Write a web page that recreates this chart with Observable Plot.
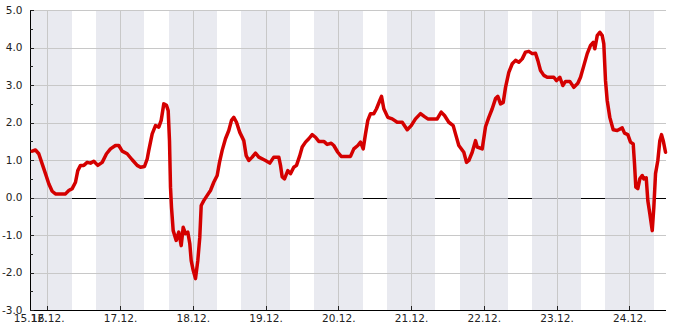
<!DOCTYPE html>
<html>
<head>
<meta charset="utf-8">
<script src="https://cdn.jsdelivr.net/npm/d3@7"></script>
<script src="https://cdn.jsdelivr.net/npm/@observablehq/plot@0.6"></script>
<style>
  html, body { margin: 0; padding: 0; background: #fff; }
  #chart svg { display: block; }
</style>
</head>
<body>
<div id="chart"></div>
<script>
// Hours since 15.12. 00:00
const hours = [18.85,19.94,21.03,22.15,23.24,24.33,25.45,26.54,29.84,30.93,32.05,33.14,33.9,34.79,35.88,37.0,38.09,39.18,40.5,41.95,43.37,44.68,46.33,47.42,48.54,50.19,51.84,53.49,54.58,55.9,56.79,57.32,58.44,59.53,60.62,61.41,62.27,63.16,63.72,64.15,64.48,64.81,65.37,66.36,67.22,68.01,68.67,69.43,70.19,70.85,71.31,71.97,72.73,73.49,74.14,74.61,75.46,76.59,77.67,78.76,79.88,80.64,81.53,82.62,83.71,84.6,85.36,86.25,87.34,88.66,89.45,90.31,91.43,92.52,93.61,95.82,97.24,98.56,100.21,100.77,101.33,102.09,103.18,104.07,105.15,106.05,107.13,107.93,109.02,110.1,111.22,112.31,113.4,115.05,116.17,117.5,118.35,119.67,120.79,123.86,124.95,126.27,127.16,128.05,128.81,129.57,130.46,131.55,132.44,133.53,134.09,134.85,136.17,137.62,139.27,140.92,142.57,143.89,145.3,146.95,148.27,149.36,152.46,153.78,154.87,156.29,157.74,158.5,159.59,161.24,162.13,162.89,164.01,165.1,165.66,167.31,168.4,169.49,170.61,171.7,172.46,173.35,174.24,175.0,176.08,177.21,178.3,179.39,180.51,181.59,182.68,183.8,184.89,185.65,186.54,187.63,188.75,190.93,191.82,192.91,193.9,194.79,196.21,197.53,198.85,199.74,200.83,201.95,203.04,203.93,204.46,205.25,206.1,206.9,207.42,207.98,208.54,209.4,210.52,211.84,213.49,214.25,215.34,216.23,217.12,217.55,217.98,218.64,219.3,220.09,220.62,221.41,221.94,222.6,223.39,223.92,224.48,225.24,225.9,226.46,227.02,227.78];
const values = [1.25,1.28,1.18,0.91,0.65,0.38,0.18,0.11,0.11,0.2,0.25,0.42,0.73,0.87,0.87,0.95,0.93,0.98,0.87,0.95,1.18,1.31,1.4,1.4,1.25,1.18,1.02,0.87,0.82,0.84,1.04,1.27,1.71,1.93,1.89,2.07,2.51,2.47,2.33,1.53,0.29,-0.25,-0.87,-1.13,-0.91,-1.27,-0.78,-0.95,-0.91,-1.22,-1.67,-1.93,-2.15,-1.67,-1.05,-0.2,-0.07,0.07,0.2,0.42,0.6,0.95,1.27,1.58,1.8,2.07,2.15,2.02,1.75,1.53,1.13,1.0,1.09,1.2,1.09,1.0,0.93,1.09,1.09,0.87,0.56,0.51,0.73,0.65,0.82,0.87,1.13,1.36,1.49,1.58,1.69,1.62,1.51,1.51,1.43,1.46,1.4,1.22,1.11,1.11,1.31,1.4,1.49,1.31,1.71,2.07,2.25,2.25,2.38,2.6,2.71,2.38,2.15,2.11,2.02,2.02,1.82,1.93,2.11,2.25,2.17,2.11,2.11,2.29,2.2,2.02,1.93,1.71,1.4,1.22,0.95,1.0,1.22,1.53,1.36,1.31,1.9,2.15,2.38,2.65,2.71,2.51,2.55,2.95,3.35,3.58,3.67,3.62,3.71,3.89,3.91,3.85,3.86,3.67,3.4,3.27,3.22,3.22,3.13,3.22,3.0,3.11,3.11,2.95,3.06,3.22,3.53,3.85,4.07,4.15,3.98,4.33,4.42,4.33,4.11,3.13,2.6,2.15,1.82,1.8,1.87,1.73,1.69,1.49,1.44,0.91,0.29,0.25,0.51,0.6,0.51,0.54,-0.07,-0.42,-0.87,-0.25,0.65,1.0,1.53,1.69,1.53,1.22];

// Visible time window (hours since 15.12. 00:00)
const domainHours = [18.3, 228.1];
// Day labels (midnight of each day, day of December)
const labelDays = [16, 17, 18, 19, 20, 21, 22, 23, 24];
// Shaded night bands: from 16:00 of day d to 08:00 of day d+1
const bandDays = [15, 16, 17, 18, 19, 20, 21, 22, 23];
const bandStartHour = 16;
const bandEndHour = 8;
// Y axis
const yTicks = [-3, -2, -1, 0, 1, 2, 3, 4, 5];
const yMinor = [-2.5, -1.5, -0.5, 0.5, 1.5, 2.5, 3.5, 4.5];

const base = Date.UTC(2023, 11, 15);
const toDate = h => new Date(base + h * 3600e3);
const data = hours.map((h, i) => ({t: toDate(h), v: values[i]}));
const bands = bandDays.map(d => ({
  x1: new Date(Date.UTC(2023, 11, d, bandStartHour)),
  x2: new Date(Date.UTC(2023, 11, d + 1, bandEndHour))
}));
const dayTicks = labelDays.map(d => new Date(Date.UTC(2023, 11, d)));
const start = toDate(domainHours[0]);
const end = toDate(domainHours[1]);
const fmt = d3.utcFormat("%d.%m.");

const chart = Plot.plot({
  width: 685,
  height: 330,
  marginTop: 10,
  marginBottom: 20,
  marginLeft: 30,
  marginRight: 19,
  style: {fontFamily: "DejaVu Sans", fontSize: "10.5px", color: "#222", background: "#fff"},
  x: {type: "utc", domain: [start, end], label: null},
  y: {domain: [-3, 5], label: null},
  marks: [
    Plot.ruleY([0], {stroke: "#000", strokeWidth: 1, shapeRendering: "crispEdges"}),
    Plot.rect(bands, {x1: "x1", x2: "x2", fill: "rgb(224,225,234)", fillOpacity: 0.7, clip: true, shapeRendering: "crispEdges"}),
    Plot.gridY(yTicks.filter(d => d !== 0), {stroke: "#c8c8c8", strokeOpacity: 1, shapeRendering: "crispEdges"}),
    Plot.gridX(dayTicks, {stroke: "#c8c8c8", strokeOpacity: 1, shapeRendering: "crispEdges"}),
    Plot.ruleX([start], {stroke: "#000", shapeRendering: "crispEdges"}),
    Plot.ruleY([-3], {stroke: "#000", shapeRendering: "crispEdges"}),
    Plot.axisY(yTicks, {tickSize: -4, tickFormat: () => "", label: null, shapeRendering: "crispEdges"}),
    Plot.axisY(yMinor, {tickSize: -3, tickFormat: () => "", label: null, shapeRendering: "crispEdges"}),
    Plot.axisY(yTicks, {tickSize: 0, tickPadding: 8, tickFormat: d => d.toFixed(1), label: null}),
    Plot.axisX(dayTicks, {tickSize: -4, tickFormat: () => "", label: null, shapeRendering: "crispEdges"}),
    Plot.axisX([start, ...dayTicks], {tickSize: 0, tickPadding: 4, tickFormat: fmt, label: null}),
    Plot.line(data, {x: "t", y: "v", stroke: "#d40000", strokeWidth: 3.5, strokeLinejoin: "round"})
  ]
});
document.getElementById("chart").append(chart);
</script>
</body>
</html>
